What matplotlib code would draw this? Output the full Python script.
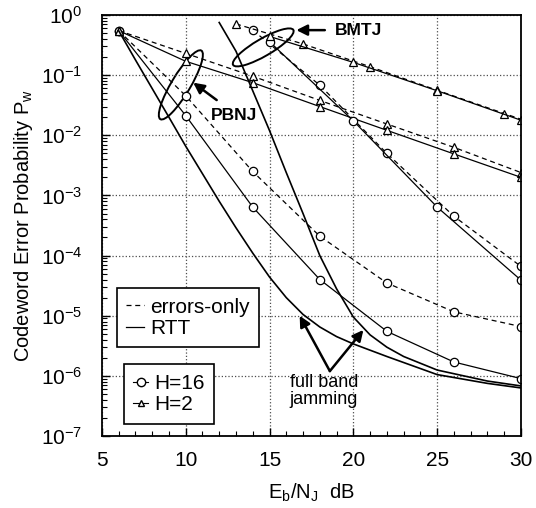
import numpy as np
import matplotlib
matplotlib.use('Agg')
import matplotlib.pyplot as plt
from matplotlib.patches import Ellipse
from matplotlib.lines import Line2D
from matplotlib.ticker import LogLocator, NullFormatter, MultipleLocator

plt.rcParams['font.family'] = ['Liberation Sans', 'DejaVu Sans']
plt.rcParams['mathtext.fontset'] = 'custom'
plt.rcParams['mathtext.rm'] = 'Liberation Sans'
plt.rcParams['mathtext.it'] = 'Liberation Sans:italic'
plt.rcParams['mathtext.bf'] = 'Liberation Sans:bold'

# PBNJ, H=16
pb16_x = [6, 10, 14, 18, 22, 26, 30]
pb16_eo = [0.55, 0.0455, 0.0025, 2.1e-4, 3.5e-5, 1.16e-5, 6.6e-6]
pb16_rtt = [0.55, 0.0213, 6.4e-4, 4.0e-5, 5.5e-6, 1.7e-6, 9.0e-7]

# PBNJ, H=2
pb2_x = [6, 10, 14, 18, 22, 26, 30]
pb2_eo = [0.55, 0.23, 0.096, 0.038, 0.0154, 0.0063, 0.0024]
pb2_rtt = [0.55, 0.17, 0.075, 0.030, 0.0121, 0.0049, 0.0020]

# BMTJ, H=16
bm16_eo_x = [14, 18, 22, 26, 30]
bm16_eo = [0.56, 0.068, 0.0050, 4.5e-4, 6.6e-5]
bm16_rtt_x = [15, 20, 25, 30]
bm16_rtt = [0.36, 0.0174, 6.4e-4, 3.9e-5]

# BMTJ, H=2
bm2_eo_x = [13, 17, 21, 25, 29, 30]
bm2_eo = [0.71, 0.33, 0.138, 0.056, 0.023, 0.0185]
bm2_rtt_x = [15, 20, 25, 30]
bm2_rtt = [0.44, 0.163, 0.055, 0.0178]

# full band jamming (RTT, no markers)
fb_a_x = [6, 7, 8, 9, 10, 11, 12, 13, 14, 15, 16, 17, 18, 19, 20, 22, 25, 28, 30]
fb_a = [0.55, 0.18, 0.06, 0.02, 6.6e-3, 2.3e-3, 8e-4, 2.9e-4, 1.1e-4, 4.4e-5,
        2.0e-5, 1.05e-5, 6.5e-6, 4.5e-6, 3.4e-6, 2.1e-6, 1.05e-6, 7.5e-7, 6.3e-7]
fb_b_x = [12, 13, 14, 15, 16, 17, 18, 19, 20, 21, 22, 23, 25, 28, 30]
fb_b = [0.75, 0.25, 0.055, 0.012, 2.4e-3, 5e-4, 1.0e-4, 2.8e-5, 9.5e-6, 4.8e-6,
        3.0e-6, 2.1e-6, 1.25e-6, 8.2e-7, 6.8e-7]

fig = plt.figure(figsize=(5.36, 5.08), dpi=100)
ax = fig.add_axes([0.19, 0.1417, 0.782, 0.8288])

dash = dict(color='k', lw=0.9, ls=(0, (4, 3)))
solid = dict(color='k', lw=0.9, ls='-')
circ = dict(marker='o', ms=6, mfc='white', mec='k', mew=0.9)
tri = dict(marker='^', ms=5.5, mfc='white', mec='k', mew=0.9)

ax.plot(pb16_x, pb16_eo, **dash, **circ)
ax.plot(pb16_x, pb16_rtt, **solid, **circ)
ax.plot(pb2_x, pb2_eo, **dash, **tri)
ax.plot(pb2_x, pb2_rtt, **solid, **tri)
ax.plot(bm16_eo_x, bm16_eo, **dash, **circ)
ax.plot(bm16_rtt_x, bm16_rtt, **solid, **circ)
ax.plot(bm2_eo_x, bm2_eo, **dash, **tri, markevery=slice(0, 5))
ax.plot(bm2_rtt_x, bm2_rtt, **solid, **tri)
ax.plot(fb_a_x, fb_a, color='k', lw=1.2)
ax.plot(fb_b_x, fb_b, color='k', lw=1.2)

ax.set_yscale('log')
ax.set_xlim(5, 30)
ax.set_ylim(1e-7, 1)
ax.set_xticks([5, 10, 15, 20, 25, 30])
ax.xaxis.set_minor_locator(MultipleLocator(1))
ax.yaxis.set_major_locator(LogLocator(base=10, numticks=10))
ax.yaxis.set_minor_locator(LogLocator(base=10, subs=np.arange(2, 10), numticks=20))
ax.yaxis.set_minor_formatter(NullFormatter())
ax.tick_params(which='both', direction='in', top=False, right=False, labelsize=15)
ax.tick_params(which='major', length=6, width=1)
ax.tick_params(which='minor', length=3.5, width=0.8)
ax.tick_params(axis='y', pad=14)
ax.tick_params(axis='x', pad=11)
ax.grid(True, which='major', ls=':', color='0.3', lw=0.9)
for s in ax.spines.values():
    s.set_linewidth(1.3)

ax.set_xlabel('E$_\\mathregular{b}$/N$_\\mathregular{J}$  dB', fontsize=14.5, labelpad=8)
ax.set_ylabel('Codeword Error Probability P$_\\mathregular{w}$', fontsize=14.5, labelpad=4)

# ellipses marking the jamming groups
ax.add_patch(Ellipse((0.1885, 0.834), 0.19, 0.045, angle=59, transform=ax.transAxes,
                     fill=False, ec='k', lw=1.4))
ax.add_patch(Ellipse((0.385, 0.923), 0.166, 0.041, angle=30, transform=ax.transAxes,
                     fill=False, ec='k', lw=1.4))

arrow = dict(arrowstyle='-|>', color='k', lw=1.8, mutation_scale=16, shrinkA=0, shrinkB=0)
ax.annotate('', xy=(10.45, 0.075), xytext=(11.85, 0.0385), arrowprops=arrow)
ax.text(12.9, 0.0216, 'PBNJ', fontsize=12.5, fontweight='bold', ha='center', va='center')
ax.annotate('', xy=(16.6, 0.56), xytext=(18.3, 0.56), arrowprops=arrow)
ax.text(18.9, 0.56, 'BMTJ', fontsize=12.5, fontweight='bold', ha='left', va='center')
ax.annotate('', xy=(16.8, 1e-5), xytext=(18.6, 1.2e-6), arrowprops=arrow)
ax.annotate('', xy=(20.6, 5.8e-6), xytext=(18.6, 1.2e-6), arrowprops=arrow)
ax.text(16.2, 5.6e-7, 'full band\njamming', fontsize=13, ha='left', va='center',
        linespacing=0.95)

h1 = [Line2D([], [], **dash), Line2D([], [], **solid)]
leg1 = ax.legend(h1, ['errors-only', 'RTT'], loc='upper left', bbox_to_anchor=(0.035, 0.351),
                 borderaxespad=0, fontsize=15, handlelength=0.85, handletextpad=0.3,
                 labelspacing=0.12, borderpad=0.45, fancybox=False, framealpha=1,
                 edgecolor='k')
leg1.get_frame().set_linewidth(1.2)
ax.add_artist(leg1)

h2 = [Line2D([], [], color='k', lw=0.8, marker='o', ms=6, mfc='white', mec='k'),
      Line2D([], [], color='k', lw=0.8, marker='^', ms=5, mfc='white', mec='k')]
leg2 = ax.legend(h2, ['H=16', 'H=2'], loc='upper left', bbox_to_anchor=(0.053, 0.170),
                 borderaxespad=0, fontsize=15, handlelength=0.7, handletextpad=0.3,
                 labelspacing=0.12, borderpad=0.45, fancybox=False, framealpha=1,
                 edgecolor='k')
leg2.get_frame().set_linewidth(1.2)

fig.savefig('out.png', dpi=100)
